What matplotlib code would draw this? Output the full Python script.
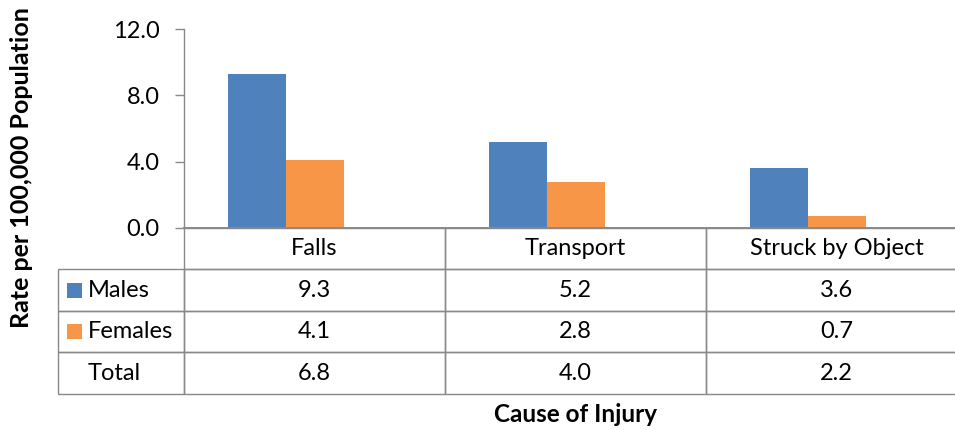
import matplotlib
matplotlib.use("Agg")
import matplotlib.pyplot as plt
from matplotlib.patches import Rectangle

categories = ["Falls", "Transport", "Struck by Object"]
series_names = ["Males", "Females", "Total"]
males = [9.3, 5.2, 3.6]
females = [4.1, 2.8, 0.7]
total = [6.8, 4.0, 2.2]
y_ticks = [0.0, 4.0, 8.0, 12.0]
y_label = "Rate per 100,000 Population"
x_label = "Cause of Injury"

BLUE = "#4F81BD"
ORANGE = "#F79646"
GRAY = "#898989"
FS = 17

plt.rcParams['font.family'] = ['Lato', 'DejaVu Sans']

W, H = 955, 430
fig = plt.figure(figsize=(W / 100, H / 100), dpi=100)

# plot area in pixels
px_left, px_right, px_top, px_bottom = 184, 967, 29, 228
ax = fig.add_axes([px_left / W, 1 - px_bottom / H,
                   (px_right - px_left) / W, (px_bottom - px_top) / H])

n = len(categories)
bw = 1 / 4.5
xs = list(range(n))
series = [males, females, total]
faces = [BLUE, ORANGE, "none"]
for i, (vals, fc) in enumerate(zip(series, faces)):
    off = (i - 1) * bw
    ax.bar([x + off for x in xs], vals, width=bw, color=fc,
           edgecolor="none", zorder=2)

ax.set_xlim(-0.5, n - 0.5)
ax.set_ylim(0, 12)
ax.set_yticks(y_ticks)
ax.set_yticklabels([f"{v:.1f}" for v in y_ticks], fontsize=FS)
ax.set_xticks([])
ax.tick_params(axis='y', direction='out', length=6.5, width=1.0,
               color=GRAY, pad=11)
for s in ["top", "right"]:
    ax.spines[s].set_visible(False)
ax.spines["left"].set_color(GRAY)
ax.spines["left"].set_linewidth(1.0)
ax.spines["bottom"].set_color(GRAY)
ax.spines["bottom"].set_linewidth(1.4)

# data table below the axes
ax_w = px_right - px_left
ax_h = px_bottom - px_top
label_w = 126 / ax_w
table_h = 166 / ax_h
cell_text = [[name] + [f"{v:.1f}" for v in row]
             for name, row in zip(series_names, series)]
tbl = ax.table(cellText=cell_text, colLabels=[""] + categories,
               colWidths=[label_w] + [1 / n] * n, cellLoc='center',
               colLoc='center',
               bbox=[-label_w, -table_h, 1 + label_w, table_h])
tbl.auto_set_font_size(False)
tbl.set_fontsize(FS)
for (r, c), cell in tbl.get_celld().items():
    cell.set_edgecolor(GRAY)
    cell.set_linewidth(1.0)
    cell.set_facecolor("none")
    cell.get_text().set_color("black")
    if c == 0:
        if r == 0:
            cell.set_visible(False)
        else:
            cell.PAD = 30 / 126
            cell.get_text().set_horizontalalignment('left')

# legend keys inside row label cells
n_rows = len(series_names) + 1
row_h = table_h / n_rows
key_w = 15 / ax_w
key_h = 15 / ax_h
key_x = -label_w + 9 / ax_w
for i, fc in enumerate(faces[:2]):
    cy = -row_h * (i + 1.5)
    ax.add_patch(Rectangle((key_x, cy - key_h / 2), key_w, key_h,
                           transform=ax.transAxes, facecolor=fc,
                           edgecolor="none", clip_on=False))

fig.text(22 / W, 1 - 167.5 / H, y_label, rotation=90, ha='center',
         va='center', fontsize=18, fontweight='bold')
fig.text((px_left + px_right) / 2 / W, 1 - 414 / H, x_label, ha='center',
         va='center', fontsize=17.5, fontweight='bold')

fig.savefig("out.png", dpi=100)
